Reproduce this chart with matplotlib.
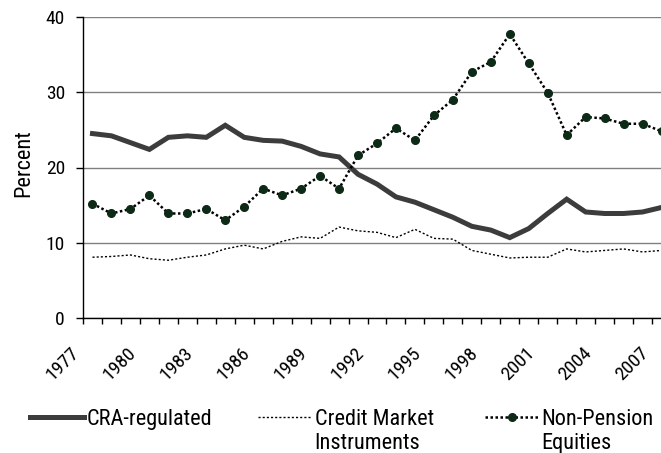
import matplotlib
matplotlib.use('Agg')
import matplotlib.pyplot as plt
from matplotlib.transforms import ScaledTranslation
from matplotlib.text import Annotation

plt.rcParams['font.family'] = ['Roboto Condensed', 'DejaVu Sans']

years = list(range(1977, 2008))
cra = [24.5, 24.2, 23.3, 22.4, 24.0, 24.2, 24.0, 25.6, 24.0, 23.6,
       23.5, 22.8, 21.8, 21.4, 19.1, 17.8, 16.1, 15.4, 14.4, 13.4,
       12.2, 11.7, 10.7, 11.9, 13.9, 15.8, 14.1, 13.9, 13.9, 14.1, 14.7]
credit = [8.1, 8.2, 8.4, 7.9, 7.7, 8.1, 8.4, 9.2, 9.7, 9.2,
          10.2, 10.8, 10.6, 12.1, 11.6, 11.4, 10.7, 11.8, 10.6, 10.5,
          9.0, 8.5, 8.0, 8.1, 8.1, 9.2, 8.8, 9.0, 9.2, 8.8, 9.0]
equities = [15.2, 13.9, 14.5, 16.3, 13.9, 13.9, 14.5, 13.0, 14.8, 17.2,
            16.3, 17.2, 18.9, 17.2, 21.6, 23.2, 25.2, 23.6, 26.9, 29.0,
            32.7, 34.0, 37.7, 33.8, 29.9, 24.3, 26.7, 26.5, 25.8, 25.8, 24.8]
label_years = years[::3]
yticks = [0, 10, 20, 30, 40]
series_names = ['CRA-regulated', 'Credit Market', 'Non-Pension']
second_lines = ['', 'Instruments', 'Equities']

W, H = 661, 453
fig = plt.figure(figsize=(W / 100, H / 100), dpi=100)
ax = fig.add_axes([83 / W, (H - 318.3) / H, 588 / W, (318.3 - 16.7) / H])

l_cra, = ax.plot(years, cra, color='#3c3c3c', lw=3.6, solid_joinstyle='miter', zorder=4)
l_cred, = ax.plot(years, credit, color='black', lw=1.0, linestyle=(0, (1.5, 1.5)), zorder=3)
l_eq, = ax.plot(years, equities, color='black', lw=1.8, linestyle=(0, (1, 1)),
                marker='o', markersize=5.5, markerfacecolor='#0c2a16',
                markeredgecolor='#0c2a16', zorder=5)

ax.set_xlim(years[0] - 0.5, years[-1] + 0.5)
ax.set_ylim(0, 40)
ax.set_yticks(yticks)
ax.yaxis.grid(True, color='#808080', lw=1.0)
ax.set_axisbelow(True)
for s in ['top', 'right']:
    ax.spines[s].set_visible(False)
for s in ['left', 'bottom']:
    ax.spines[s].set_color('black')
    ax.spines[s].set_linewidth(1.0)

ax.tick_params(axis='y', direction='out', length=5, width=1, pad=8, labelsize=14)

# category boundary ticks (major) and labels at category centres (minor)
ax.set_xticks([y - 0.5 for y in years] + [years[-1] + 0.5])
ax.tick_params(axis='x', which='major', direction='out', length=4.5, width=1, labelbottom=False)
ax.set_xticks(label_years, [str(y) for y in label_years], minor=True)
ax.tick_params(axis='x', which='minor', length=0, pad=18.5, labelsize=14)
off = ScaledTranslation(-0.095, 0, fig.dpi_scale_trans)
for lab in ax.get_xticklabels(minor=True):
    lab.set_rotation(45)
    lab.set_ha('right')
    lab.set_va('top')
    lab.set_transform(lab.get_transform() + off)

fig.text(23.5 / W, 1 - 163 / H, 'Percent', rotation=90, ha='center', va='center', fontsize=16)

# legend: one entry per slot
handles = [l_cra, l_cred, l_eq]
xs = [30, 258, 485]
for h, name, second, x in zip(handles, series_names, second_lines, xs):
    leg = fig.legend([h], [name], loc='center left', bbox_to_anchor=(x / W, 1 - 419.5 / H),
                     frameon=False, fontsize=16, handlelength=2.45, handletextpad=0.1,
                     borderpad=0, borderaxespad=0)
    leg.set_zorder(5)
    if second:
        txt = leg.get_texts()[0]
        ann = Annotation(second, xy=(0, 0), xycoords=txt,
                         xytext=(0, -2.0), textcoords='offset points',
                         ha='left', va='top', fontsize=16)
        ann.set_zorder(10)
        fig.add_artist(ann)

fig.savefig('out.png', dpi=100)
